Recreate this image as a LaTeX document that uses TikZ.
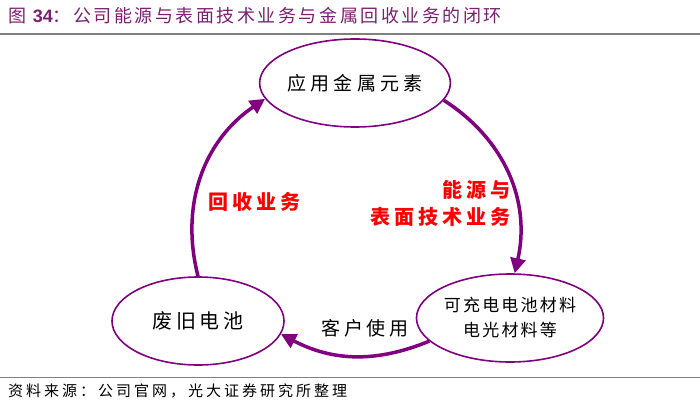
\documentclass[tikz,border=0pt]{standalone}
\usepackage{fontspec}
\usepackage{xcolor}
\usetikzlibrary{shapes.geometric,arrows.meta}
\newfontfamily\cjk{Noto Sans CJK SC}
\newcommand{\cjkls}[3]{\cjk\fontsize{#1}{#2}\selectfont\addfontfeature{LetterSpace=#3}}
\setsansfont{Liberation Sans}
\definecolor{zipurple}{HTML}{800080}
\definecolor{titlepurple}{HTML}{7B1F70}
\definecolor{rulegray}{HTML}{808080}

\begin{document}
\begin{tikzpicture}[x=1pt,y=1pt,
  oval/.style={ellipse, draw=zipurple, line width=1.6pt, minimum width=172pt, minimum height=88pt, inner sep=0pt, align=center},
  cycle/.style={draw=zipurple, line width=3.5pt, -{Triangle[length=15pt,width=15pt]}},
  redlab/.style={text=red, font=\cjkls{20}{20}{20}\bfseries}]
\useasboundingbox (0,0) rectangle (700,-406);
% title and rules
\node[anchor=west, text=titlepurple, inner sep=0pt] (title) at (8,-16)
  {\cjkls{18}{18}{14}图 {\sffamily\bfseries 34}：公司能源与表面技术业务与金属回收业务的闭环};
\draw[rulegray, line width=2pt] (0,-34) -- (700,-34);
\draw[rulegray, line width=1pt] (0,-377) -- (700,-377);
\node[anchor=west, inner sep=0pt] (source) at (8,-391)
  {\cjkls{15}{15}{20}资料来源：公司官网，光大证券研究所整理};
% the three stages
\node[oval, font=\cjkls{19}{19}{22}] (metal) at (355,-83) {应用金属元素};
\node[oval, font=\cjkls{17}{25}{13}] (material) at (510,-318) {可充电电池材料\\电光材料等};
\node[oval, font=\cjkls{20}{20}{18}] (waste) at (198,-321) {废旧电池};
% loop
\draw[cycle] (metal.-11) to[bend left=35] (material.84);
\draw[cycle] (material.196) to[bend left=25] (waste.-9);
\draw[cycle] (waste.90) to[bend left=35] (metal.190);
% labels
\node[redlab, anchor=east, inner sep=0pt] (energy) at (511,-190) {能源与};
\node[redlab, anchor=east, inner sep=0pt] (surface) at (511,-217) {表面技术业务};
\node[redlab] (recycle) at (254,-202) {回收业务};
\node[font=\cjkls{19}{19}{20}] (customer) at (365,-328) {客户使用};
\end{tikzpicture}
\end{document}
